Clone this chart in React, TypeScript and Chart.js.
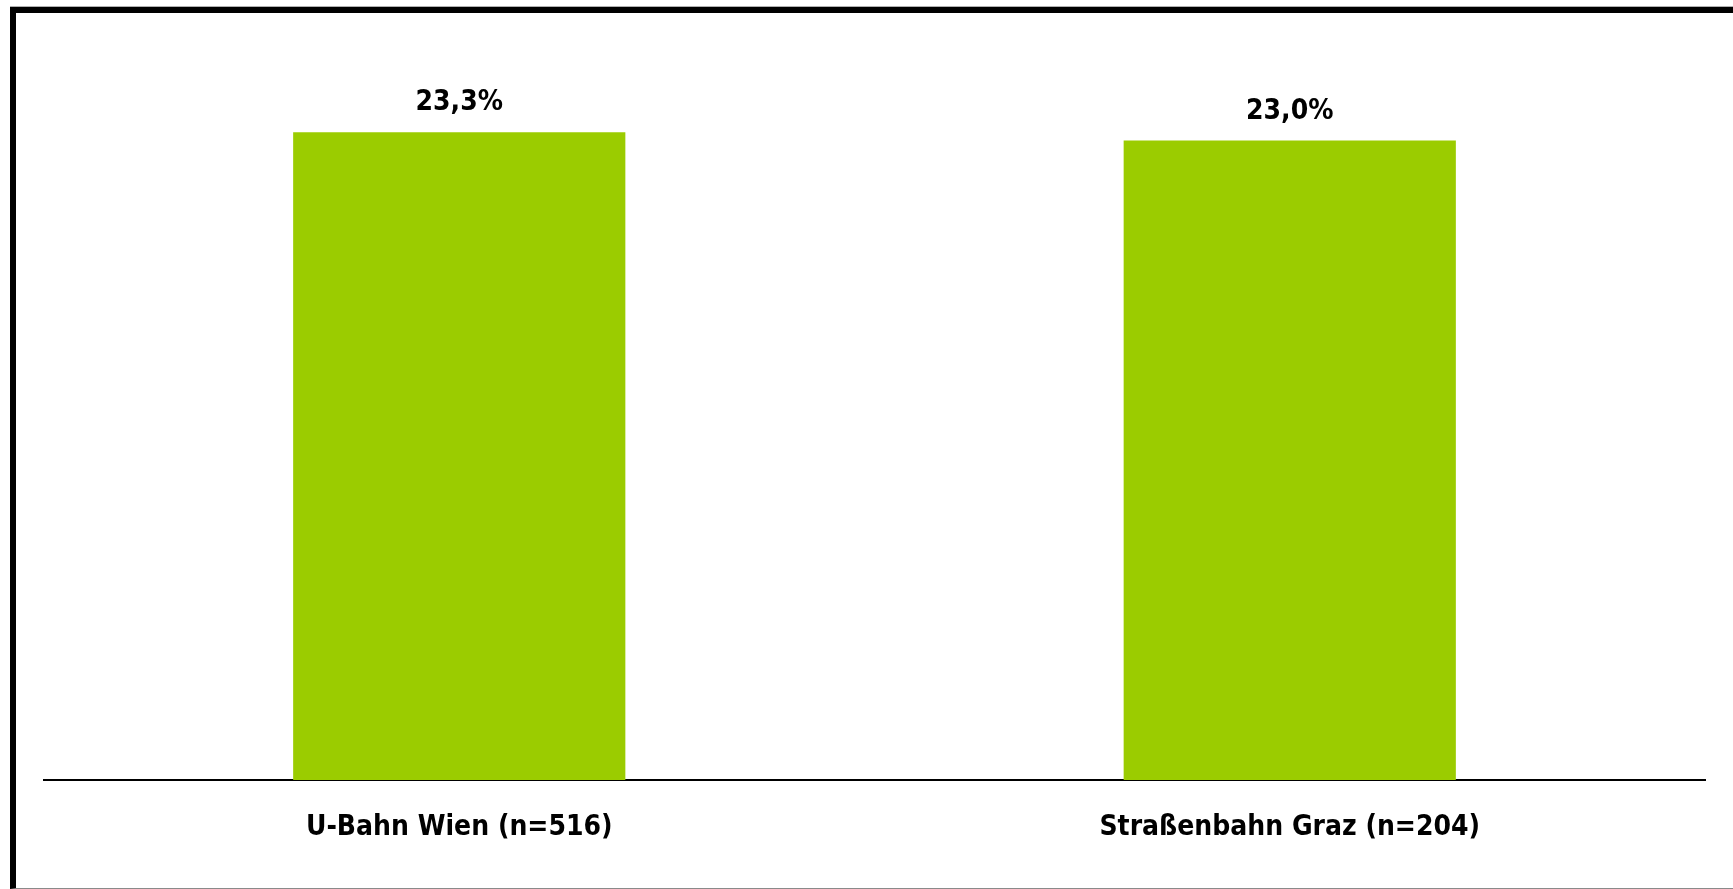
import React, { useEffect, useRef } from "react";
import { Chart, registerables } from "chart.js";

Chart.register(...registerables);

const categories = ["U-Bahn Wien (n=516)", "Straßenbahn Graz (n=204)"];
const values = [23.3, 23.0];
const valueLabels = ["23,3%", "23,0%"];

const FONT = '"DejaVu Sans Condensed", "DejaVu Sans", sans-serif';

const valueLabelPlugin = {
  id: "valueLabels",
  afterDatasetsDraw(chart: any) {
    const ctx = chart.ctx;
    const meta = chart.getDatasetMeta(0);
    ctx.save();
    ctx.font = `bold 28px ${FONT}`;
    ctx.fillStyle = "#000";
    ctx.textAlign = "center";
    ctx.textBaseline = "alphabetic";
    meta.data.forEach((bar: any, i: number) => {
      ctx.fillText(valueLabels[i], bar.x, bar.y - 22);
    });
    ctx.restore();
  },
};

export default function App() {
  const ref = useRef<HTMLCanvasElement>(null);
  useEffect(() => {
    document.body.style.margin = "0";
    const chart = new Chart(ref.current as HTMLCanvasElement, {
      type: "bar",
      data: {
        labels: categories,
        datasets: [
          {
            data: values,
            backgroundColor: "#9BCC00",
            borderWidth: 0,
            barPercentage: 0.4,
            categoryPercentage: 1,
          },
        ],
      },
      options: {
        responsive: false,
        animation: false,
        layout: { padding: { left: 44, right: 28, top: 85, bottom: 0 } },
        plugins: { legend: { display: false }, tooltip: { enabled: false } },
        scales: {
          x: {
            grid: { display: false, drawTicks: false },
            border: { display: true, color: "#000", width: 2 },
            ticks: {
              padding: 31,
              color: "#000",
              font: { family: FONT, size: 28, weight: "bold" },
              maxRotation: 0,
              autoSkip: false,
            },
            afterFit: (scale: any) => {
              scale.height = 109;
            },
          },
          y: { display: false, min: 0, max: 25 },
        },
      },
      plugins: [valueLabelPlugin],
    });
    return () => chart.destroy();
  }, []);

  return (
    <div style={{ position: "fixed", left: 0, top: 0, width: 1733, height: 889, background: "#fff", overflow: "hidden" }}>
      <div style={{ position: "absolute", left: 10, top: 6, width: 1723, height: 1, background: "#b0b0b0" }} />
      <div
        style={{
          position: "absolute",
          left: 10,
          top: 7,
          width: 1723,
          height: 882,
          boxSizing: "border-box",
          borderTop: "6px solid #000",
          borderLeft: "6px solid #000",
          borderBottom: "1px solid #8a8a8a",
        }}
      />
      <canvas ref={ref} width={1733} height={889} style={{ position: "absolute", left: 0, top: 0, width: 1733, height: 889 }} />
    </div>
  );
}
